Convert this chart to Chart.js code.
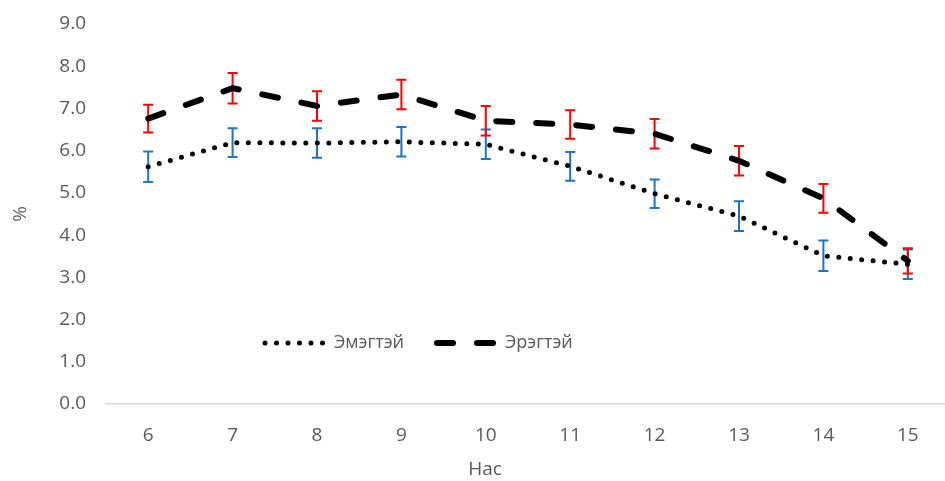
<!DOCTYPE html>
<html>
<head>
<meta charset="utf-8">
<script src="https://cdn.jsdelivr.net/npm/chart.js@4.4.0/dist/chart.umd.min.js"></script>
<style>
  html, body { margin: 0; padding: 0; background: #fff; overflow: hidden; }
  #wrap { position: relative; width: 952px; height: 481px; }
  canvas { display: block; }
</style>
</head>
<body>
<div id="wrap"><canvas id="c" width="952" height="481"></canvas></div>
<script>
// Age groups (years)
const ages = ['6', '7', '8', '9', '10', '11', '12', '13', '14', '15'];

// Girls: mean % and error margin
const female = [5.62, 6.19, 6.18, 6.21, 6.15, 5.63, 4.98, 4.45, 3.51, 3.31];
const femaleErr = [0.36, 0.34, 0.35, 0.35, 0.35, 0.34, 0.34, 0.35, 0.36, 0.35];

// Boys: mean % and error margin
const male = [6.76, 7.48, 7.06, 7.33, 6.71, 6.62, 6.40, 5.76, 4.87, 3.39];
const maleErr = [0.33, 0.36, 0.35, 0.35, 0.35, 0.34, 0.35, 0.35, 0.34, 0.30];

// Y axis range
const yMin = 0;
const yMax = 9;
const yStep = 1;

const seriesNames = ['Эмэгтэй', 'Эрэгтэй'];
const xTitle = 'Нас';
const yTitle = '%';

const FONT = "'Open Sans', sans-serif";
const TEXT = '#595959';

const dotDash = [0, 11.5];
const longDash = [16, 24];

// Vertical error bars with caps, positioned through the chart scales
const errorBars = {
  id: 'errorBars',
  beforeDatasetsDraw(chart) {
    const { ctx, scales: { x, y } } = chart;
    chart.data.datasets.forEach(ds => {
      ctx.save();
      ctx.strokeStyle = ds.errColor;
      ctx.lineWidth = 2;
      ctx.setLineDash([]);
      ds.data.forEach((v, i) => {
        const px = x.getPixelForValue(i);
        const top = y.getPixelForValue(v + ds.err[i]);
        const bot = y.getPixelForValue(v - ds.err[i]);
        ctx.beginPath();
        ctx.moveTo(px, top); ctx.lineTo(px, bot);
        ctx.moveTo(px - 5, top); ctx.lineTo(px + 5, top);
        ctx.moveTo(px - 5, bot); ctx.lineTo(px + 5, bot);
        ctx.stroke();
      });
      ctx.restore();
    });
  }
};

// Legend inside the plot plus the horizontal axis title
const overlay = {
  id: 'overlay',
  afterDraw(chart) {
    const { ctx } = chart;
    ctx.save();
    const items = [
      { x0: 265, x1: 326, tx: 334, ds: chart.data.datasets[0] },
      { x0: 437, x1: 497, tx: 505, ds: chart.data.datasets[1] }
    ];
    const ly = 343;
    items.forEach(it => {
      ctx.strokeStyle = it.ds.borderColor;
      ctx.lineWidth = it.ds.borderWidth;
      ctx.lineCap = 'round';
      ctx.setLineDash(it.ds.borderDash);
      ctx.beginPath();
      ctx.moveTo(it.x0, ly);
      ctx.lineTo(it.x1, ly);
      ctx.stroke();
      ctx.setLineDash([]);
      ctx.fillStyle = TEXT;
      ctx.font = '18px ' + FONT;
      ctx.textAlign = 'left';
      ctx.textBaseline = 'middle';
      ctx.fillText(it.ds.label, it.tx, ly);
    });
    ctx.font = '19px ' + FONT;
    ctx.textAlign = 'center';
    ctx.textBaseline = 'middle';
    ctx.fillStyle = TEXT;
    ctx.fillText(xTitle, 485, 470);
    ctx.restore();
  }
};

new Chart(document.getElementById('c'), {
  type: 'line',
  data: {
    labels: ages,
    datasets: [
      {
        label: seriesNames[0],
        data: female,
        err: femaleErr,
        errColor: '#1F73C0',
        borderColor: '#000000',
        borderWidth: 5,
        borderDash: dotDash,
        borderCapStyle: 'round',
        pointRadius: 0,
        tension: 0,
        fill: false
      },
      {
        label: seriesNames[1],
        data: male,
        err: maleErr,
        errColor: '#FF0000',
        borderColor: '#000000',
        borderWidth: 6,
        borderDash: longDash,
        borderCapStyle: 'round',
        pointRadius: 0,
        tension: 0,
        fill: false
      }
    ]
  },
  options: {
    responsive: false,
    animation: false,
    devicePixelRatio: 1,
    layout: { padding: { top: 24, right: 2, bottom: 0, left: 0 } },
    plugins: {
      legend: { display: false },
      tooltip: { enabled: false }
    },
    scales: {
      x: {
        type: 'category',
        offset: true,
        grid: { display: false, drawTicks: false },
        border: { display: true, color: '#D9D9D9', width: 1.5 },
        ticks: { color: TEXT, font: { family: FONT, size: 19 }, padding: 20, maxRotation: 0, autoSkip: false },
        afterFit(s) { s.height = 77; }
      },
      y: {
        min: yMin,
        max: yMax,
        grid: { display: false, drawTicks: false },
        border: { display: false },
        ticks: {
          stepSize: yStep,
          color: TEXT,
          font: { family: FONT, size: 19 },
          padding: 20,
          callback: v => Number(v).toFixed(1)
        },
        title: {
          display: true,
          text: yTitle,
          color: TEXT,
          font: { family: FONT, size: 19 },
          padding: { top: 9, bottom: 0 }
        },
        afterFit(s) { s.width = 106; s.paddingTop = 0; s.paddingBottom = 0; }
      }
    }
  },
  plugins: [errorBars, overlay]
});
</script>
</body>
</html>
